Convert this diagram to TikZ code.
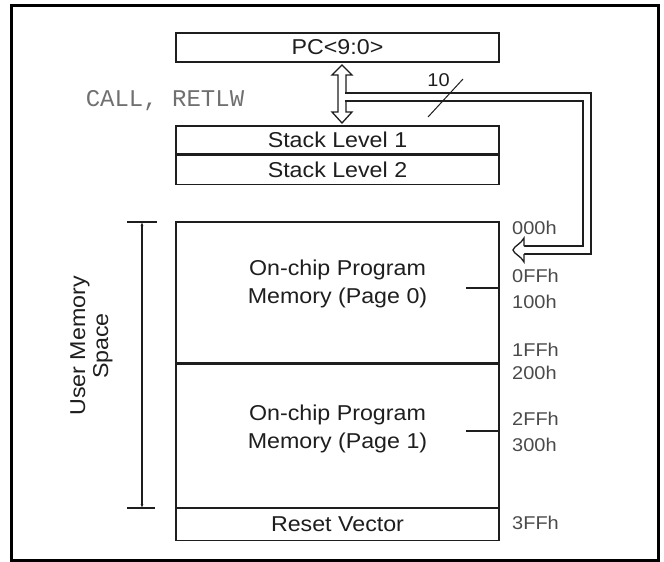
\documentclass[tikz,border=0pt]{standalone}
\usepackage{fontspec}
\setmainfont{Liberation Sans}[FakeStretch=1.08]
\newfontfamily\codefont{Liberation Mono}
\usetikzlibrary{arrows.meta,calc}
\definecolor{ink}{HTML}{1E1E1E}
\definecolor{addr}{HTML}{4A4A4A}
\definecolor{instr}{HTML}{707070}

\begin{document}
\begin{tikzpicture}[x=1pt, y=-1pt,
  reg/.style={draw=ink, line width=1.3pt, minimum width=323pt, inner sep=0pt, font=\fontsize{21.5}{26}\selectfont, text=ink},
  memtxt/.style={align=center, inner sep=0pt, font=\fontsize{21.5}{28}\selectfont, text=ink},
  addrlbl/.style={anchor=base west, inner sep=0pt, font=\fontsize{18.5}{20}\selectfont, text=addr},
  tick/.style={draw=ink, line width=1.2pt},
  bus/.style={draw=ink, line width=1.3pt, double=white, double distance=6.5pt, line join=miter},
  hollow/.style={fill=white, draw=ink, line width=1.3pt, line join=miter}
]
\useasboundingbox (0,0) rectangle (664,562);
\draw[line width=3pt] (11,5.5) rectangle (658.5,560);

% PC and stack
\node[reg, minimum height=29pt] (pc) at (337.5,47.5) {PC<9:0>};
\node[reg, minimum height=28pt] (stk1) at (337.5,140) {Stack Level 1};
\node[reg, minimum height=29pt, anchor=north] (stk2) at (stk1.south) {Stack Level 2};
\node[font=\codefont\fontsize{24}{24}\selectfont, text=instr, anchor=base] (callret) at (165,106) {CALL, RETLW};

% program memory
\node[reg, minimum height=141pt] (page0) at (337.5,292.5) {};
\node[reg, minimum height=143pt, anchor=north] (page1) at (page0.south) {};
\node[reg, minimum height=32pt, anchor=north] (reset) at (page1.south) {Reset Vector};
\draw[ink, line width=2.6pt] (page0.south west) -- (page0.south east);
\node[memtxt, yshift=9pt] (p0txt) at (page0.center) {On-chip Program\\Memory (Page 0)};
\node[memtxt, yshift=7pt] (p1txt) at (page1.center) {On-chip Program\\Memory (Page 1)};
\draw[tick] (466,288) -- (page0.east |- 0,288);
\draw[tick] (466,431) -- (page1.east |- 0,431);

\foreach \a/\y in {000h/234.5, 0FFh/282.5, 100h/308.5, 1FFh/356.5, 200h/379.5, 2FFh/425.5, 300h/451.5, 3FFh/529.5}
  \node[addrlbl] (a\a) at (512,\y) {\a};

% user memory span
\coordinate (dtop) at (142,222);
\coordinate (dbot) at (142,508);
\draw[tick] (127,222) -- (157,222);
\draw[tick] (127,508) -- (155,508);
\draw[ink, line width=1.2pt, {Latex[length=4pt,width=3pt]}-{Latex[length=4pt,width=3pt]}] (dtop) -- (dbot);
\node[rotate=90, align=center, inner sep=0pt, font=\fontsize{21.5}{23}\selectfont, text=ink] (ums) at (91.5,346) {User Memory\\Space};

% 10-bit path between PC, stack and memory
\filldraw[hollow] (342,65) -- (352,75) -- (346,75) -- (346,112) -- (352,112) -- (342,123)
  -- (332,112) -- (338,112) -- (338,75) -- (332,75) -- cycle;
\coordinate (busin) at (345.3,97);
\coordinate (busout) at (524,250);
\draw[bus] (busin) -| ($(busout)+(63,0)$) -- (busout);
\filldraw[hollow] (524,246) -- (524,238) .. controls (521,244) and (514,246) .. (513,250)
  .. controls (514,254) and (521,256) .. (524,262) -- (524,254);
\draw[ink, line width=1pt] (428,117) -- (463,79);
\node[font=\fontsize{18.5}{18}\selectfont, text=ink, inner sep=0pt] (width) at (438.5,80) {10};
\end{tikzpicture}
\end{document}
